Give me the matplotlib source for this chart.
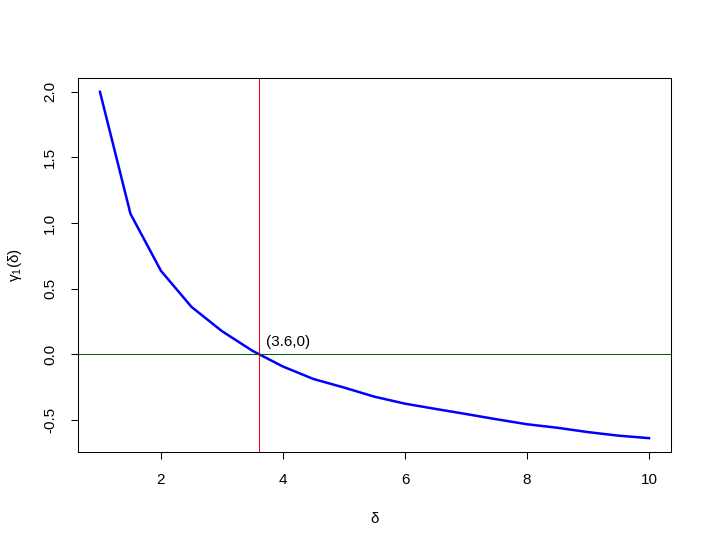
import matplotlib
matplotlib.use("Agg")
import matplotlib.pyplot as plt

# values
delta = [1, 1.5, 2, 2.5, 3, 3.5, 4, 4.5, 5, 5.5, 6, 6.5, 7, 7.5, 8, 8.5, 9, 9.5, 10]
gamma1 = [2.0, 1.07, 0.635, 0.36, 0.175, 0.025, -0.095, -0.19, -0.255, -0.325,
          -0.378, -0.418, -0.457, -0.497, -0.535, -0.562, -0.595, -0.622, -0.641]
root_x = 3.6
root_label = "(3.6,0)"
x_ticks = [2, 4, 6, 8, 10]
y_ticks = [-0.5, 0.0, 0.5, 1.0, 1.5, 2.0]

plt.rcParams['font.family'] = ['Liberation Sans', 'DejaVu Sans']

fig = plt.figure(figsize=(7.13, 5.5), dpi=100)
ax = fig.add_axes([78 / 713, 1 - 452 / 550, (671 - 78) / 713, (452 - 78) / 550])

ax.plot(delta, gamma1, color='blue', lw=1.8)
ax.axvline(root_x, color='red', lw=0.75)
ax.axhline(0, color='darkgreen', lw=0.75)
ax.annotate(root_label, (root_x, 0), xytext=(5.5, 3.5), textcoords='offset points',
            ha='left', va='bottom', fontsize=11)

# R-style 4% padding
xr = max(delta) - min(delta)
yr = max(gamma1) - min(gamma1)
ax.set_xlim(min(delta) - 0.04 * xr, max(delta) + 0.04 * xr)
ax.set_ylim(min(gamma1) - 0.04 * yr, max(gamma1) + 0.04 * yr)

ax.set_xticks(x_ticks)
ax.set_xticklabels([str(t) for t in x_ticks])
ax.set_yticks(y_ticks)
ax.set_yticklabels([f"{t:.1f}" for t in y_ticks], rotation=90, va='center')
ax.tick_params(direction='out', length=5, width=0.75, labelsize=11, pad=10)
for s in ax.spines.values():
    s.set_linewidth(0.75)

ax.set_xlabel("δ", fontsize=11, labelpad=18)
ax.set_ylabel(r"$\mathregular{γ_1}$(δ)", fontsize=11, labelpad=14)

fig.savefig("out.png", dpi=100)
